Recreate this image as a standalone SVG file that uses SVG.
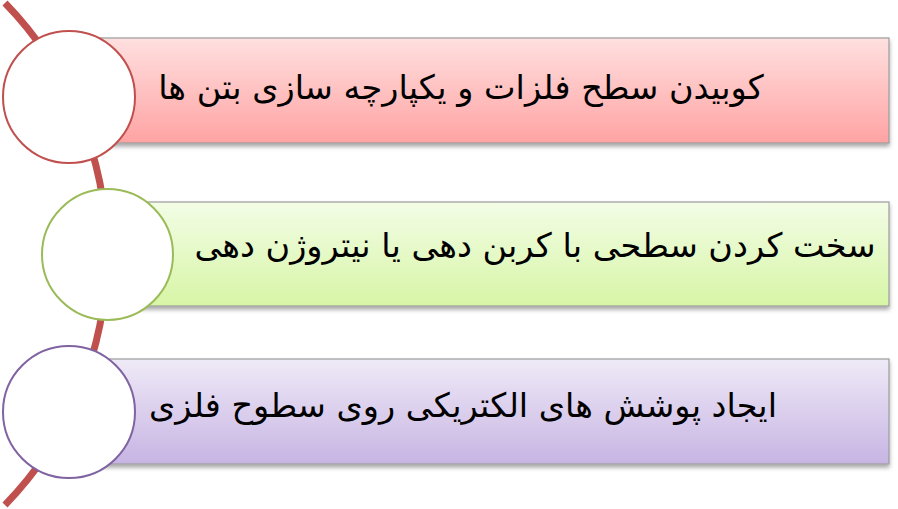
<svg xmlns="http://www.w3.org/2000/svg" width="898" height="509" viewBox="0 0 898 509">
<defs>
<linearGradient id="gRed" x1="0" y1="0" x2="0" y2="1">
<stop offset="0" stop-color="#FFE0E0"/>
<stop offset="1" stop-color="#FFA3A3"/>
</linearGradient>
<linearGradient id="gGreen" x1="0" y1="0" x2="0" y2="1">
<stop offset="0" stop-color="#F3FDE6"/>
<stop offset="1" stop-color="#D7F5A6"/>
</linearGradient>
<linearGradient id="gPurple" x1="0" y1="0" x2="0" y2="1">
<stop offset="0" stop-color="#EFEAF7"/>
<stop offset="1" stop-color="#C7B4E3"/>
</linearGradient>
<filter id="shadow" x="-5%" y="-10%" width="110%" height="130%">
<feDropShadow dx="0" dy="3" stdDeviation="2" flood-color="#000" flood-opacity="0.35"/>
</filter>
</defs>
<style>
.bar{stroke:#9C9C9C;stroke-width:1.2;filter:url(#shadow)}
.circ{fill:#FFFFFF;stroke-width:2}
.lbl{font-family:"DejaVu Sans","Liberation Sans",sans-serif;font-size:33.5px;fill:#000;text-anchor:middle;direction:rtl}
</style>
<g id="connectors">
<path d="M5,3 A360,360 0 0 1 5,505" fill="none" stroke="#C0504D" stroke-width="7"/>
</g>
<g id="node1">
<rect class="bar" x="70" y="38" width="819" height="105" fill="url(#gRed)"/>
<circle class="circ" cx="69" cy="97" r="66" stroke="#C0504D"/>
<text class="lbl" x="461" y="99">کوبیدن سطح فلزات و یکپارچه سازی بتن ها</text>
</g>
<g id="node2">
<rect class="bar" x="107" y="202" width="782" height="104" fill="url(#gGreen)"/>
<circle class="circ" cx="107.5" cy="254.5" r="65.5" stroke="#9BBB59"/>
<text class="lbl" x="535" y="257">سخت کردن سطحی با کربن دهی یا نیتروژن دهی</text>
</g>
<g id="node3">
<rect class="bar" x="69" y="359" width="820" height="105" fill="url(#gPurple)"/>
<circle class="circ" cx="69" cy="412" r="66" stroke="#8064A2"/>
<text class="lbl" x="463" y="417">ایجاد پوشش های الکتریکی روی سطوح فلزی</text>
</g>
</svg>
